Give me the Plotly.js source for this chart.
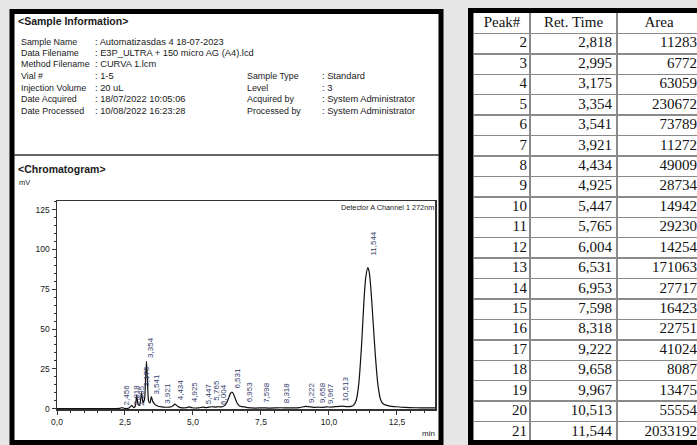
<!DOCTYPE html>
<html><head><meta charset="utf-8">
<script src="https://cdn.plot.ly/plotly-3.0.1.min.js"></script>
<style>html,body{margin:0;padding:0;overflow:hidden;background:#e6e6e6}#chart{width:705px;height:445px}</style>
</head><body><div id="chart"></div>
<script>
// ---- Sample information ----
const infoLabels = ['Sample Name','Data Filename','Method Filename','Vial #','Injection Volume','Date Acquired','Date Processed'];
const infoValues = [': Automatizasdas 4 18-07-2023',': E3P_ULTRA + 150 micro AG (A4).lcd',': CURVA 1.lcm',': 1-5',': 20 uL',': 18/07/2022 10:05:06',': 10/08/2022 16:23:28'];
const infoLabels2 = ['Sample Type','Level','Acquired by','Processed by'];
const infoValues2 = [': Standard',': 3',': System Administrator',': System Administrator'];

// ---- Chromatogram trace (min, mV) ----
const traceTime = [0.0,1.5,2.3,2.39,2.48,2.65,2.75,2.82,2.88,2.93,2.98,3.04,3.11,3.16,3.22,3.26,3.29,3.32,3.37,3.42,3.47,3.52,3.6,3.7,3.85,4.0,4.15,4.25,4.34,4.43,4.55,4.75,4.86,4.97,5.2,5.37,5.5,5.69,5.82,5.94,6.06,6.16,6.25,6.32,6.38,6.43,6.48,6.55,6.62,6.7,6.8,6.89,7.0,7.3,7.53,7.8,8.25,8.5,8.9,9.15,9.35,9.5,9.6,9.75,9.9,10.1,10.45,10.65,10.8,10.9,11.0,11.1,11.2,11.25,11.3,11.35,11.43,11.48,11.53,11.58,11.63,11.7,11.8,11.9,12.0,12.2,12.5,12.8,13.2,13.6,13.9];
const traceMV   = [0,0,0.1,0.6,0.1,0.3,2.0,0.6,1.5,8.5,2.5,2.0,10.0,3.5,6.0,20.0,29.7,20.0,4.5,3.5,7.5,4.5,2.6,1.6,1.0,0.8,0.9,1.6,2.8,1.5,0.6,0.5,1.0,0.5,0.4,0.9,0.6,1.1,0.9,1.1,1.0,1.8,4.0,7.0,9.5,10.3,9.5,6.5,3.5,1.8,1.2,1.0,0.6,0.3,0.4,0.3,0.5,0.4,0.6,1.4,1.0,0.7,0.9,0.7,1.0,0.9,1.5,1.2,1.3,2.0,5.0,16.0,40.0,56.0,71.0,82.0,88.6,86.0,78.0,66.0,53.0,35.0,15.0,5.5,2.8,1.7,1.1,0.7,0.5,0.4,0.4];

// ---- Peaks ----
const peakNo   = [1,2,3,4,5,6,7,8,9,10,11,12,13,14,15,16,17,18,19,20,21];
const peakRT   = [2.456,2.818,2.995,3.175,3.354,3.541,3.921,4.434,4.925,5.447,5.765,6.004,6.531,6.953,7.598,8.318,9.222,9.658,9.967,10.513,11.544];
const labelMV  = [1.5,1.5,1.0,13,31,8,2.5,4.6,3.6,1.9,4.5,1.5,12,3,3,2.5,3,3,2,4,95.5];
// table lists peaks 2..21
const tablePeaks = [2,3,4,5,6,7,8,9,10,11,12,13,14,15,16,17,18,19,20,21];
const tableAreas = [11283,6772,63059,230672,73789,11272,49009,28734,14942,29230,14254,171063,27717,16423,22751,41024,8087,13475,55554,2033192];
const tableHeaders = ['Peak#','Ret. Time','Area'];

// ---- helpers ----
const W = 705, H = 445;
const X = p => p / W, Y = p => 1 - p / H;
const SANS = '"Liberation Sans", Arial, sans-serif';
const SERIF = '"Liberation Serif", "Times New Roman", serif';
const fmt = v => v.toFixed(3).replace('.', ',');

const annotations = [];
function txt(px, py, text, size, opts) {
  annotations.push(Object.assign({xref:'paper', yref:'paper', x:X(px), y:Y(py), text:text, showarrow:false,
    xanchor:'left', yanchor:'middle', font:{family:SANS, size:size, color:'#1a1a1a'}}, opts||{}));
}
txt(16, 21, '<b>&lt;Sample Information&gt;</b>', 10.5);
const rowY = [42, 53, 64.5, 76, 87.5, 99, 110.5];
infoLabels.forEach((l,i)=>{ txt(19, rowY[i], l, 8.9); txt(93, rowY[i], infoValues[i], 9.3); });
infoLabels2.forEach((l,i)=>{ txt(245, rowY[i+3], l, 8.9); txt(320, rowY[i+3], infoValues2[i], 9.3); });
txt(16, 169, '<b>&lt;Chromatogram&gt;</b>', 10.5);
txt(17, 183, 'mV', 7.5);
txt(437, 433, 'min', 8, {xanchor:'right'});
annotations.push({xref:'paper', yref:'paper', x:X(435), y:Y(202), xanchor:'right', yanchor:'top', showarrow:false,
  text:'Detector A Channel 1 272nm', font:{family:SANS, size:7.3, color:'#1a1a1a'}, bgcolor:'white', borderpad:0});

// peak labels
peakRT.forEach((rt,i)=>{
  annotations.push({xref:'x', yref:'y', x:rt, y:labelMV[i], text:fmt(rt), textangle:-90, showarrow:false,
    xanchor:'center', yanchor:'bottom', xshift:3, font:{family:SANS, size:8, color:'#34406e'}, borderpad:0});
});

// ---- table via scatter text on axes 2 ----
const colEdges = [0, 56, 143, 227];
const colPad = [3, 5, 4];
const rowsY = tablePeaks.map((_,i)=> i + 1.5);
const tableCols = [tablePeaks.map(String), tablePeaks.map(p=>fmt(peakRT[peakNo.indexOf(p)])), tableAreas.map(String)];

const traces = [{
  type:'scatter', mode:'lines', x:traceTime, y:traceMV, line:{color:'#111', width:1.2, shape:'spline', smoothing:0.5},
  hoverinfo:'skip', xaxis:'x', yaxis:'y'
},{
  type:'scatter', mode:'text', xaxis:'x2', yaxis:'y2',
  x:[0,1,2].map(c=>(colEdges[c]+colEdges[c+1])/2), y:[0.5,0.5,0.5], text:tableHeaders,
  textposition:'middle center', textfont:{family:SERIF, size:15, color:'#111'}, hoverinfo:'skip'
}];
tableCols.forEach((vals,c)=>{
  traces.push({type:'scatter', mode:'text', xaxis:'x2', yaxis:'y2',
    x:vals.map(()=>colEdges[c+1]-colPad[c]), y:rowsY, text:vals,
    textposition:'middle left', textfont:{family:SERIF, size:15, color:'#111'}, hoverinfo:'skip'});
});

const layout = {
  width:W, height:H, margin:{l:0,r:0,t:0,b:0}, showlegend:false,
  paper_bgcolor:'#e6e6e6', plot_bgcolor:'white', separators:', ',
  xaxis:{domain:[X(57),X(435)], range:[0,13.9], tick0:0, dtick:2.5, tickformat:'.1f',
    ticks:'outside', ticklen:4, tickcolor:'#333', tickwidth:1, showgrid:false, zeroline:false,
    showline:true, linecolor:'#333', linewidth:1.5, mirror:true,
    minor:{dtick:0.5, ticks:'outside', ticklen:2, tickcolor:'#333', showgrid:false},
    tickfont:{family:SANS, size:8.5, color:'#1a1a1a'}},
  yaxis:{domain:[Y(409),Y(201)], range:[-0.3,130.5], tick0:0, dtick:25,
    ticks:'outside', ticklen:4, tickcolor:'#333', tickwidth:1, showgrid:false, zeroline:false,
    showline:true, linecolor:'#333', linewidth:1.5, mirror:true,
    minor:{dtick:5, ticks:'outside', ticklen:2, tickcolor:'#333', showgrid:false},
    tickfont:{family:SANS, size:8.5, color:'#1a1a1a'}},
  xaxis2:{domain:[X(474),X(701)], range:[0,227], tickmode:'array', tickvals:[56,143], showgrid:true,
    gridcolor:'#8a8a8a', gridwidth:1.5, showticklabels:false, ticks:'', zeroline:false,
    showline:true, linecolor:'#8a8a8a', linewidth:1.5, mirror:true, anchor:'y2', fixedrange:true},
  yaxis2:{domain:[Y(442),Y(13)], range:[21,0], tickmode:'array', tickvals:tablePeaks.map((_,i)=>i+1), showgrid:true,
    gridcolor:'#8a8a8a', gridwidth:1.5, showticklabels:false, ticks:'', zeroline:false,
    showline:true, linecolor:'#8a8a8a', linewidth:1.5, mirror:true, anchor:'x2', fixedrange:true},
  shapes:[
    {type:'rect', xref:'paper', yref:'paper', x0:X(12), x1:X(441), y0:Y(442.5), y1:Y(11.5), fillcolor:'white', line:{width:0}, layer:'below'},
    {type:'rect', xref:'paper', yref:'paper', x0:X(470.5), x1:1.05, y0:Y(442.5), y1:Y(10.5), fillcolor:'white', line:{width:0}, layer:'below'},
    {type:'rect', xref:'paper', yref:'paper', x0:X(12), x1:X(441), y0:Y(442.5), y1:Y(11.5), line:{color:'#000', width:5}, layer:'above'},
    {type:'rect', xref:'paper', yref:'paper', x0:X(470.5), x1:1.05, y0:Y(442.5), y1:Y(10.5), line:{color:'#000', width:5}, layer:'above'},
    {type:'line', xref:'paper', yref:'paper', x0:X(14), x1:X(439), y0:Y(155), y1:Y(155), line:{color:'#333', width:1.5}}
  ],
  annotations:annotations
};
Plotly.newPlot('chart', traces, layout, {staticPlot:true, displayModeBar:false});
</script></body></html>
